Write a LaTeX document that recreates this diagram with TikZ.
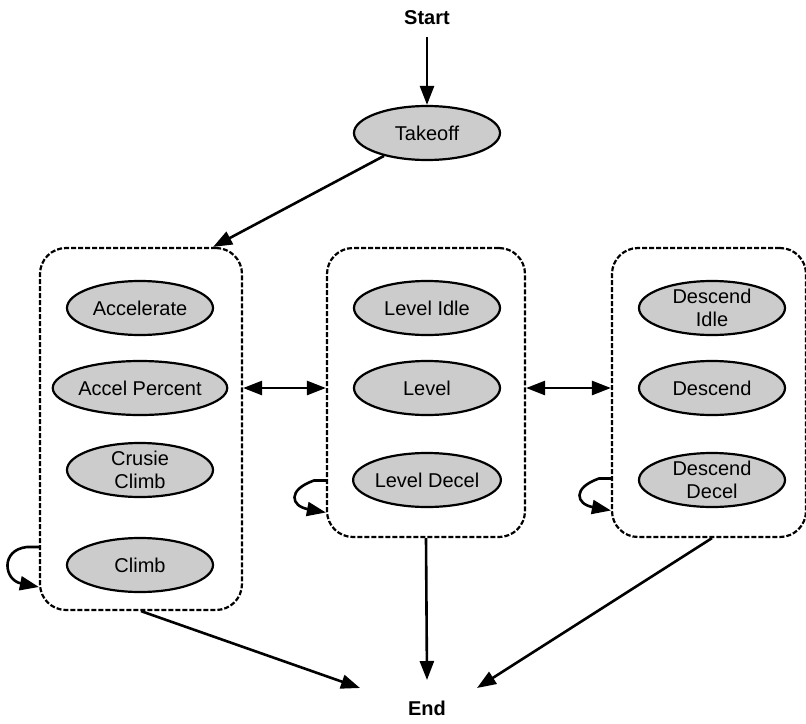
\documentclass[tikz,border=0pt]{standalone}
\usepackage{fontspec}
\setmainfont{Liberation Sans}
\usetikzlibrary{shapes.geometric,arrows.meta}
\definecolor{stategray}{HTML}{CCCCCC}

\tikzset{
  state/.style={ellipse, draw, line width=2.2pt, fill=stategray,
    minimum width=146pt, minimum height=54pt, inner sep=0pt, align=center,
    font=\fontsize{20}{23}\selectfont},
  group/.style={draw, line width=2.2pt, dash pattern=on 5pt off 2pt,
    rounded corners=26pt},
  term/.style={font=\fontsize{20}{23}\selectfont\bfseries, inner sep=8pt},
  arr/.style={line width=2.6pt, -{Triangle[length=19pt,width=14pt]}},
  darr/.style={line width=2.6pt, {Triangle[length=19pt,width=14pt]}-{Triangle[length=19pt,width=14pt]}}
}

\begin{document}
\begin{tikzpicture}[x=1pt, y=-1pt]
  \useasboundingbox (0,0) rectangle (806,723);
  % start and end
  \node[term] (start) at (427,18) {Start};
  \node[term] (stop) at (427,708) {End};
  \node[state] (takeoff) at (427,133) {Takeoff};
  % three groups of states
  \node[group, minimum width=202pt, minimum height=362pt] (climbgrp) at (141,429) {};
  \node[group, minimum width=198pt, minimum height=289pt] (levelgrp) at (426,392.5) {};
  \node[group, minimum width=194pt, minimum height=289pt] (descgrp) at (709,392.5) {};
  % climb group
  \node[state] (accel) at (140,308) {Accelerate};
  \node[state] (accpct) at (140,388) {Accel Percent};
  \node[state] (cruise) at (140,470) {Crusie\\Climb};
  \node[state] (climb) at (140,565) {Climb};
  % level group
  \node[state] (lvlidle) at (427,308) {Level Idle};
  \node[state] (level) at (427,388) {Level};
  \node[state] (lvldecel) at (427,480) {Level Decel};
  % descend group
  \node[state] (dscidle) at (712,308) {Descend\\Idle};
  \node[state] (descend) at (712,388) {Descend};
  \node[state] (dscdecel) at (712,480) {Descend\\Decel};
  % transitions
  \draw[arr] ([yshift=-4pt]start.south) -- (takeoff);
  \draw[arr] (takeoff) -- ([xshift=-30pt]climbgrp.north east);
  \draw[darr] (climbgrp.east |- accpct) -- (levelgrp.west |- accpct);
  \draw[darr] (levelgrp.east |- level) -- (descgrp.west |- level);
  % self loops
  \draw[arr] ([yshift=-118pt]climbgrp.west) -- ++(-12,0)
    .. controls (0,550) and (4,580) .. ([yshift=-158pt]climbgrp.west);
  \draw[arr] ([yshift=-88pt]levelgrp.west) -- ++(-12,0)
    .. controls (287,490) and (291,506) .. ([yshift=-120pt]levelgrp.west);
  \draw[arr] ([yshift=-86pt]descgrp.west) -- ++(-12,0)
    .. controls (572,488) and (576,504) .. ([yshift=-118pt]descgrp.west);
  % to end
  \draw[arr] (climbgrp.south) -- ([xshift=-67pt,yshift=20pt]stop.center);
  \draw[arr] (levelgrp.south) -- ([yshift=28pt]stop.center);
  \draw[arr] ([xshift=3pt]descgrp.south) -- ([xshift=50pt,yshift=20pt]stop.center);
\end{tikzpicture}
\end{document}
